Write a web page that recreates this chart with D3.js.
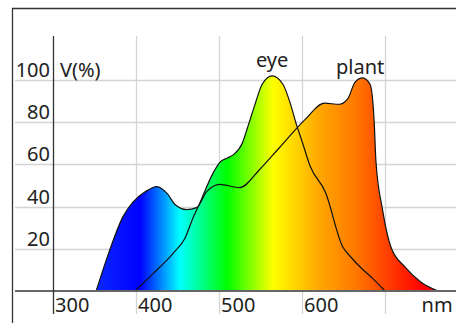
<!DOCTYPE html>
<html>
<head>
<meta charset="utf-8">
<script src="https://cdn.jsdelivr.net/npm/d3@7"></script>
<style>
  html, body { margin: 0; padding: 0; background: #fff; }
  svg { display: block; }
  text { font-family: "Noto Sans", sans-serif; fill: #222; }
</style>
</head>
<body>
<div id="chart"></div>
<script>
// wavelength (nm) and relative sensitivity V(%)
const eyeNm = [399, 420, 445, 459, 469, 475, 493, 501, 510, 517, 528, 534, 543, 552, 564, 577, 585, 594, 600, 610, 628, 649, 659, 671, 685, 700];
const eyeV  = [0, 8, 18, 25, 35, 40, 56, 61, 63, 64.5, 70, 77, 88, 98, 102, 98, 90, 78, 71, 59, 47, 21, 16, 11, 6, 0];

const plantNm = [352, 368, 384, 396, 411, 425, 438, 447, 461, 473, 485, 501, 525, 549, 573, 603, 627, 645, 655, 664, 673, 682, 687, 689, 697, 707, 724, 743, 764];
const plantV  = [0, 19, 35, 42, 47, 49.5, 46, 41, 38.6, 39.5, 47, 50.5, 49, 57.6, 68, 81, 89, 88.5, 91, 99, 101, 98, 80, 62, 38.6, 21, 11.4, 4.3, 0];

const xTicks = [300, 400, 500, 600, 700];
const xTickLabels = ["300", "400", "500", "600"];
const yTicks = [20, 40, 60, 80, 100];

// spectrum colours along the wavelength axis
const spectrumNm = [350, 405, 453, 510, 565, 620, 665, 745];
const spectrumColors = ["#0a28ff", "#0000ff", "#00ffff", "#00ff00", "#ffff00", "#ffa800", "#ff7800", "#ff0000"];

const width = 456, height = 323;

const svg = d3.select("#chart").append("svg")
  .attr("width", width)
  .attr("height", height);

const x = d3.scaleLinear().domain([300, 700]).range([53, 385]);
const y = d3.scaleLinear().domain([0, 100]).range([291, 80]);

// frame
svg.append("path")
  .attr("d", `M12.5,${height} V8.5 H${width}`)
  .attr("fill", "none")
  .attr("stroke", "#333")
  .attr("stroke-width", 1.3);

// grid
svg.append("g").selectAll("line")
  .data(yTicks)
  .join("line")
  .attr("x1", 15).attr("x2", width)
  .attr("y1", d => Math.round(y(d)) + 0.5).attr("y2", d => Math.round(y(d)) + 0.5)
  .attr("stroke", "#d4d4d4").attr("stroke-width", 1.3);

svg.append("g").selectAll("line")
  .data(xTicks.slice(1))
  .join("line")
  .attr("x1", d => Math.round(x(d)) + 0.5).attr("x2", d => Math.round(x(d)) + 0.5)
  .attr("y1", 36).attr("y2", 314)
  .attr("stroke", "#d4d4d4").attr("stroke-width", 1.3);

// gradient
const grad = svg.append("defs").append("linearGradient")
  .attr("id", "spectrum")
  .attr("gradientUnits", "userSpaceOnUse")
  .attr("x1", x(spectrumNm[0])).attr("x2", x(spectrumNm[spectrumNm.length - 1]))
  .attr("y1", 0).attr("y2", 0);

const span = spectrumNm[spectrumNm.length - 1] - spectrumNm[0];
grad.selectAll("stop")
  .data(spectrumNm)
  .join("stop")
  .attr("offset", d => (d - spectrumNm[0]) / span)
  .attr("stop-color", (d, i) => spectrumColors[i]);

const eyeData = eyeNm.map((d, i) => [d, eyeV[i]]);
const plantData = plantNm.map((d, i) => [d, plantV[i]]);

const area = d3.area()
  .x(d => x(d[0]))
  .y0(y(0))
  .y1(d => y(d[1]))
  .curve(d3.curveMonotoneX);

const line = d3.line()
  .x(d => x(d[0]))
  .y(d => y(d[1]))
  .curve(d3.curveMonotoneX);

[plantData, eyeData].forEach(data => {
  svg.append("path")
    .datum(data)
    .attr("d", area)
    .attr("fill", "url(#spectrum)");
});

[plantData, eyeData].forEach(data => {
  svg.append("path")
    .datum(data)
    .attr("d", line)
    .attr("fill", "none")
    .attr("stroke", "#111")
    .attr("stroke-width", 1.2);
});

// axes
svg.append("line")
  .attr("x1", 15).attr("x2", width)
  .attr("y1", y(0)).attr("y2", y(0))
  .attr("stroke", "#666").attr("stroke-width", 1.8);

svg.append("line")
  .attr("x1", x(300) + 0.5).attr("x2", x(300) + 0.5)
  .attr("y1", 36).attr("y2", 314)
  .attr("stroke", "#333").attr("stroke-width", 1.3);

// tick labels
svg.append("g").selectAll("text")
  .data(yTicks)
  .join("text")
  .attr("x", 50)
  .attr("y", d => y(d) - 3)
  .attr("text-anchor", "end")
  .style("font-size", "20px")
  .text(d => d);

svg.append("g").selectAll("text")
  .data(xTickLabels)
  .join("text")
  .attr("x", (d, i) => x(xTicks[i]) + 2)
  .attr("y", 312)
  .style("font-size", "20px")
  .text(d => d);

svg.append("text")
  .attr("x", x(744))
  .attr("y", 312)
  .style("font-size", "20px")
  .text("nm");

svg.append("text")
  .attr("x", 60)
  .attr("y", 77)
  .style("font-size", "20px")
  .text("V(%)");

// curve labels
svg.append("text")
  .attr("x", x(564))
  .attr("y", 67)
  .attr("text-anchor", "middle")
  .style("font-size", "20px")
  .text("eye");

svg.append("text")
  .attr("x", x(670))
  .attr("y", 74)
  .attr("text-anchor", "middle")
  .style("font-size", "20px")
  .text("plant");
</script>
</body>
</html>
